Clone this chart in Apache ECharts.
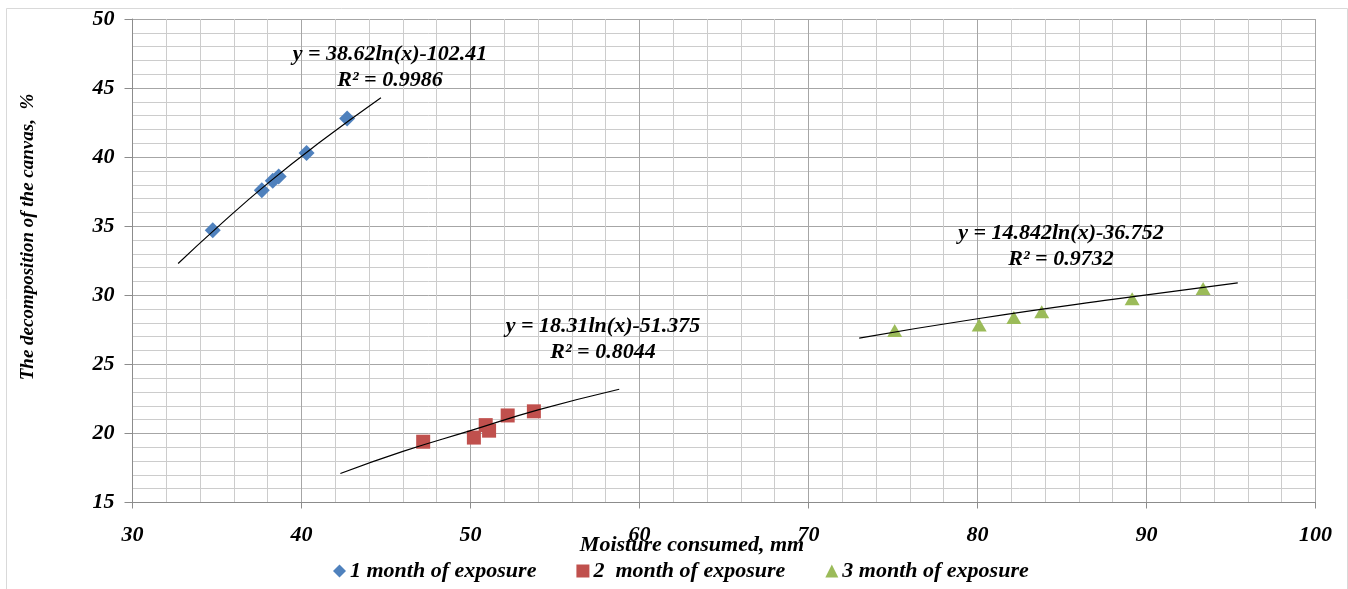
<!DOCTYPE html>
<html>
<head>
<meta charset="utf-8">
<script src="https://cdn.jsdelivr.net/npm/echarts@6/dist/echarts.min.js"></script>
<style>
html,body{margin:0;padding:0;background:#fff;}
#chart{width:1348px;height:589px;}
</style>
</head>
<body>
<div id="chart"></div>
<script>
// ---- data ----
const seriesNames = ['1 month of exposure', '2  month of exposure', '3 month of exposure'];

const month1X = [34.75, 37.65, 38.3, 38.65, 40.3, 42.7];
const month1Y = [34.7, 37.6, 38.3, 38.6, 40.3, 42.8];

const month2X = [47.2, 50.2, 50.9, 51.1, 52.2, 53.75];
const month2Y = [19.4, 19.7, 20.6, 20.2, 21.3, 21.6];

const month3X = [75.1, 80.1, 82.15, 83.8, 89.15, 93.35];
const month3Y = [27.45, 27.85, 28.4, 28.8, 29.75, 30.5];

// logarithmic trend lines
const trend1X = [32.7, 35, 38, 41, 44.7];
const trend1Y = [32.3, 34.9, 38.1, 41.0, 44.3];
const trend2X = [42.3, 46, 50, 54, 58.8];
const trend2Y = [17.1, 18.7, 20.2, 21.7, 23.2];
const trend3X = [73.0, 80, 88, 95.4];
const trend3Y = [26.9, 28.3, 29.7, 30.9];

const equations = [
  'y = 38.62ln(x)-102.41\nR² = 0.9986',
  'y = 18.31ln(x)-51.375\nR² = 0.8044',
  'y = 14.842ln(x)-36.752\nR² = 0.9732'
];

const xTicks = {min: 30, max: 100, step: 10};
const yTicks = {min: 15, max: 50, step: 5};
const xTitle = 'Moisture consumed, mm';
const yTitle = 'The decomposition of the canvas,  %';

// ---- build chart ----
const zip = (xs, ys) => xs.map((x, i) => [x, ys[i]]);
const FONT = '"Liberation Serif", "Times New Roman", serif';
const txt = (size) => ({fontFamily: FONT, fontStyle: 'italic', fontWeight: 'bold', fontSize: size, color: '#000'});

const colors = ['#4F81BD', '#C0504D', '#9BBB59'];
const symbols = ['diamond', 'rect', 'triangle'];
const pts = [zip(month1X, month1Y), zip(month2X, month2Y), zip(month3X, month3Y)];
const trends = [zip(trend1X, trend1Y), zip(trend2X, trend2Y), zip(trend3X, trend3Y)];
const symSizes = [[16, 16], [14, 14], [15, 13]];

const series = [];
pts.forEach((d, i) => {
  series.push({
    name: seriesNames[i], type: 'scatter', data: d,
    symbol: symbols[i], symbolSize: symSizes[i],
    itemStyle: {color: colors[i], opacity: 1}, z: 3
  });
});
trends.forEach((d) => {
  series.push({
    type: 'line', data: d, smooth: true, showSymbol: false, symbol: 'none',
    lineStyle: {color: '#000', width: 1.2}, z: 5, silent: true
  });
});

const chart = echarts.init(document.getElementById('chart'), null, {renderer: 'canvas'});
chart.setOption({
  animation: false,
  backgroundColor: '#fff',
  grid: {left: 132.5, right: 32.5, top: 19, bottom: 86.5, containLabel: false},
  xAxis: {
    type: 'value', min: xTicks.min, max: xTicks.max, interval: xTicks.step,
    axisLine: {show: true, lineStyle: {color: '#8c8c8c', width: 1}},
    axisTick: {show: true, length: 6, lineStyle: {color: '#8c8c8c'}},
    axisLabel: Object.assign(txt(22), {margin: 22}),
    splitLine: {show: true, lineStyle: {color: '#a6a6a6', width: 1}},
    minorTick: {show: false, splitNumber: 5},
    minorSplitLine: {show: true, lineStyle: {color: '#cccccc', width: 1}}
  },
  yAxis: {
    type: 'value', min: yTicks.min, max: yTicks.max, interval: yTicks.step,
    axisLine: {show: true, lineStyle: {color: '#8c8c8c', width: 1}},
    axisTick: {show: true, length: 8, lineStyle: {color: '#8c8c8c'}},
    axisLabel: Object.assign(txt(22), {margin: 18}),
    splitLine: {show: true, lineStyle: {color: '#a6a6a6', width: 1}},
    minorTick: {show: false, splitNumber: 5},
    minorSplitLine: {show: true, lineStyle: {color: '#cccccc', width: 1}}
  },
  legend: {
    data: seriesNames.map((n, i) => ({name: n, icon: symbols[i]})),
    left: 328, top: 555, itemGap: 40, itemWidth: 13, itemHeight: 13,
    textStyle: Object.assign(txt(22), {padding: [0, 0, 0, -1]}),
    selectedMode: false
  },
  graphic: [
    {type: 'rect', left: 4, top: 6, shape: {width: 1341, height: 600}, style: {fill: 'none', stroke: '#d9d9d9', lineWidth: 1}, silent: true, z: -10},
    {type: 'text', x: 692, y: 545, style: {text: xTitle, fill: '#000', align: 'center', verticalAlign: 'middle', font: 'italic bold 22px ' + FONT}, z: 10},
    {type: 'text', x: 28, y: 237, rotation: Math.PI / 2, style: {text: yTitle, fill: '#000', align: 'center', verticalAlign: 'middle', font: 'italic bold 19px ' + FONT}, z: 10},
    {type: 'text', x: 390, y: 67, style: {text: equations[0], fill: '#000', align: 'center', verticalAlign: 'middle', lineHeight: 26, font: 'italic bold 22px ' + FONT}, z: 10},
    {type: 'text', x: 603, y: 339, style: {text: equations[1], fill: '#000', align: 'center', verticalAlign: 'middle', lineHeight: 26, font: 'italic bold 22px ' + FONT}, z: 10},
    {type: 'text', x: 1061, y: 246, style: {text: equations[2], fill: '#000', align: 'center', verticalAlign: 'middle', lineHeight: 26, font: 'italic bold 22px ' + FONT}, z: 10}
  ],
  series: series
});
</script>
</body>
</html>
